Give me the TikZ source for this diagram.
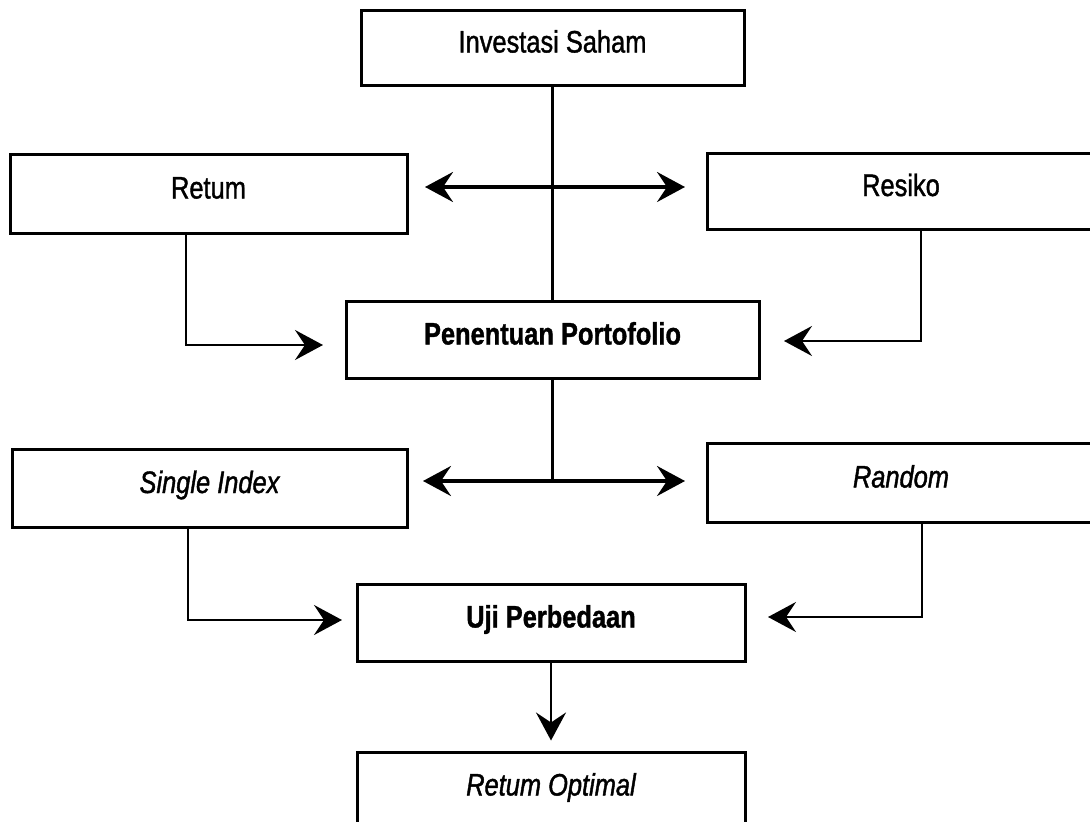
\documentclass[tikz,border=0pt]{standalone}
\usepackage{fontspec}
\setmainfont{Liberation Sans}[FakeStretch=0.82,UprightFeatures={FakeBold=1.3},ItalicFeatures={FakeBold=1.3},BoldFeatures={FakeBold=1.2}]
\usetikzlibrary{arrows.meta,calc}
\begin{document}
\begin{tikzpicture}[x=1pt,y=-1pt,
  box/.style={draw=black,line width=3pt,minimum width=#1,minimum height=77pt,inner sep=0pt,
    text height=22pt,text depth=12pt,font=\fontsize{31}{36}\selectfont},
  conn/.style={draw=black,line width=2.4pt},
  arr/.style={conn,-{Stealth[length=28pt,width=30pt,inset=10pt]}},
  darr/.style={conn,line width=3.4pt,{Stealth[length=28pt,width=30pt,inset=10pt]}-{Stealth[length=28pt,width=30pt,inset=10pt]}}
]
\useasboundingbox (0,0) rectangle (1090,822);
\fill[white] (0,0) rectangle (1090,822);
\begin{scope}
\clip (0,0) rectangle (1090,822);
% boxes
\node[box=383pt,minimum height=75pt] (inv) at (552.5,47.5) {Investasi Saham};
\node[box=397pt,minimum height=79pt] (ret) at (208.5,193.5) {Retum};
\node[box=388pt,minimum height=76pt] (res) at (901,191) {Resiko};
\node[box=413pt] (pen) at (552.5,339.5) {\bfseries Penentuan Portofolio};
\node[box=395pt,minimum height=78pt] (sing) at (209.5,488) {\itshape Single Index};
\node[box=388pt,minimum height=79pt] (rand) at (901,482.5) {\itshape Random};
\node[box=388pt] (uji) at (551,622.5) {\bfseries Uji Perbedaan};
\node[box=388pt] (opt) at (551,790.5) {\itshape Retum Optimal};
% named points
\coordinate (a1l) at (425,187);
\coordinate (a1r) at (685,187);
\coordinate (j2) at (552.5,481);
\coordinate (a2l) at (423,481);
\coordinate (a2r) at (685,481);
\coordinate (t1) at (323,345);
\coordinate (t2) at (784,341);
\coordinate (t3) at (342,620);
\coordinate (t4) at (768,617);
% connectors
\draw[conn] (inv.south) -- (pen.north);
\draw[darr] (a1l) -- (a1r);
\draw[arr] ([xshift=-22.5pt]ret.south) |- (t1);
\draw[arr] ([xshift=20pt]res.south) |- (t2);
\draw[conn] (pen.south) -- (j2);
\draw[darr] (a2l) -- (a2r);
\draw[arr] ([xshift=-21.5pt]sing.south) |- (t3);
\draw[arr] ([xshift=21pt]rand.south) |- (t4);
\draw[arr,shorten >=10pt] (uji.south) -- (opt.north);
\end{scope}
\end{tikzpicture}
\end{document}
